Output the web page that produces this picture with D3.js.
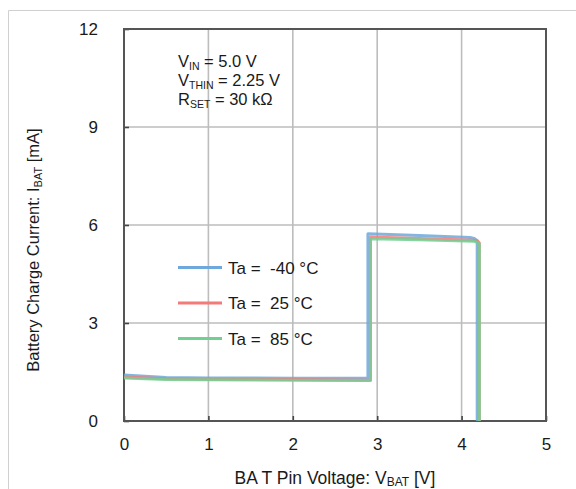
<!DOCTYPE html>
<html><head><meta charset="utf-8">
<script src="https://cdn.jsdelivr.net/npm/d3@7"></script>
<style>
html,body{margin:0;padding:0;background:#fff;}
text{font-family:"Liberation Sans",Arial,sans-serif;fill:#1a1a1a;}
</style></head>
<body>
<svg id="chart" width="576" height="489"></svg>
<script>
const xTicks = [0, 1, 2, 3, 4, 5];
const yTicks = [0, 3, 6, 9, 12];
const seriesNames = ["Ta =  -40 °C", "Ta =  25 °C", "Ta =  85 °C"];
const seriesColors = ["#6fa8dc", "#f47a7a", "#72cf92"];
const vBat40 = [0, 0.5, 1, 2, 2.89, 2.89, 3.5, 4.1, 4.15, 4.185, 4.185];
const iBat40 = [1.41, 1.33, 1.32, 1.31, 1.31, 5.73, 5.68, 5.62, 5.59, 5.52, 0];
const vBat25 = [0, 0.5, 1, 2, 2.92, 2.92, 3.5, 4.15, 4.19, 4.21, 4.21];
const iBat25 = [1.35, 1.29, 1.28, 1.27, 1.25, 5.63, 5.59, 5.53, 5.51, 5.45, 0];
const vBat85 = [0, 0.5, 1, 2, 2.92, 2.92, 3.5, 4.15, 4.19, 4.21, 4.21];
const iBat85 = [1.32, 1.27, 1.26, 1.25, 1.24, 5.58, 5.55, 5.5, 5.47, 5.42, 0];

const svg = d3.select("#chart");
const L = 124, R = 546, T = 29, B = 421;
const x = d3.scaleLinear().domain([0, 5]).range([L, R]);
const y = d3.scaleLinear().domain([0, 12]).range([B, T]);
const FF = "Liberation Sans, Arial, sans-serif";

// outer frame
svg.append("path").attr("d", `M8.5,489 V10.5 H576`).attr("fill", "none").attr("stroke", "#d0d0d0").attr("stroke-width", 1);

// grid
svg.append("g").selectAll("line").data(xTicks.filter(d => d > 0 && d < 5)).join("line")
  .attr("x1", d => x(d)).attr("x2", d => x(d)).attr("y1", T).attr("y2", B)
  .attr("stroke", "#bdbdbd").attr("stroke-width", 1.6);
svg.append("g").selectAll("line").data(yTicks.filter(d => d > 0 && d < 12)).join("line")
  .attr("x1", L).attr("x2", R).attr("y1", d => y(d)).attr("y2", d => y(d))
  .attr("stroke", "#bdbdbd").attr("stroke-width", 1.6);

// inner ticks
const xAxis = d3.axisBottom(x).tickValues(xTicks).tickSize(-5).tickFormat(d3.format("d")).tickPadding(17);
const gx = svg.append("g").attr("transform", `translate(0,${B})`).call(xAxis);
gx.select(".domain").remove();
gx.selectAll("line").attr("stroke", "#444").attr("stroke-width", 1.6);
gx.selectAll("text").attr("font-size", 17).attr("fill", "#1a1a1a").attr("font-family", FF);

const yAxis = d3.axisLeft(y).tickValues(yTicks).tickSize(-5).tickFormat(d3.format("d")).tickPadding(26);
const gy = svg.append("g").attr("transform", `translate(${L},0)`).call(yAxis);
gy.select(".domain").remove();
gy.selectAll("line").attr("stroke", "#444").attr("stroke-width", 1.6);
gy.selectAll("text").attr("font-size", 17).attr("fill", "#1a1a1a").attr("font-family", FF);

// plot frame
svg.append("rect").attr("x", L).attr("y", T).attr("width", R - L).attr("height", B - T)
  .attr("fill", "none").attr("stroke", "#555").attr("stroke-width", 2);

// series
const series = [
  { v: vBat40, i: iBat40 },
  { v: vBat25, i: iBat25 },
  { v: vBat85, i: iBat85 }
];
const line = d3.line().x(d => x(d[0])).y(d => y(d[1])).curve(d3.curveLinear);
series.forEach((s, k) => {
  svg.append("path").datum(s.v.map((v, j) => [v, s.i[j]]))
    .attr("d", line).attr("fill", "none").attr("stroke", seriesColors[k])
    .attr("stroke-width", 3).attr("stroke-linejoin", "round").attr("stroke-opacity", 0.85);
});

// legend
const lg = svg.append("g");
seriesNames.forEach((n, k) => {
  const yy = 267.5 + k * 35.5;
  lg.append("line").attr("x1", 178).attr("x2", 222).attr("y1", yy).attr("y2", yy)
    .attr("stroke", seriesColors[k]).attr("stroke-width", 3);
  lg.append("text").attr("x", 228).attr("y", yy + 6).attr("font-size", 17)
    .style("white-space", "pre").text(n);
});

// annotation
const ann = svg.append("g").attr("font-size", 16.5);
const a1 = ann.append("text").attr("x", 178).attr("y", 67);
a1.append("tspan").text("V");
a1.append("tspan").attr("font-size", 10.5).attr("dy", 3).text("IN");
a1.append("tspan").attr("dy", -3).text(" = 5.0 V");
const a2 = ann.append("text").attr("x", 178).attr("y", 85.5);
a2.append("tspan").text("V");
a2.append("tspan").attr("font-size", 10.5).attr("dy", 3).text("THIN");
a2.append("tspan").attr("dy", -3).text(" = 2.25 V");
const a3 = ann.append("text").attr("x", 178).attr("y", 104.5);
a3.append("tspan").text("R");
a3.append("tspan").attr("font-size", 10.5).attr("dy", 3).text("SET");
a3.append("tspan").attr("dy", -3).text(" = 30 kΩ");

// axis titles
const xt = svg.append("text").attr("x", 335).attr("y", 484).attr("text-anchor", "middle").attr("font-size", 17.5).style("white-space", "pre");
xt.append("tspan").text("BA T Pin Voltage: V");
xt.append("tspan").attr("font-size", 12).attr("dy", 2).text("BAT");
xt.append("tspan").attr("dy", -2).text(" [V]");

const yt = svg.append("text").attr("transform", "translate(39,250) rotate(-90)").attr("text-anchor", "middle").attr("font-size", 16.5);
yt.append("tspan").text("Battery Charge Current: I");
yt.append("tspan").attr("font-size", 11).attr("dy", 3).text("BAT");
yt.append("tspan").attr("dy", -3).text(" [mA]");
</script>
</body></html>
